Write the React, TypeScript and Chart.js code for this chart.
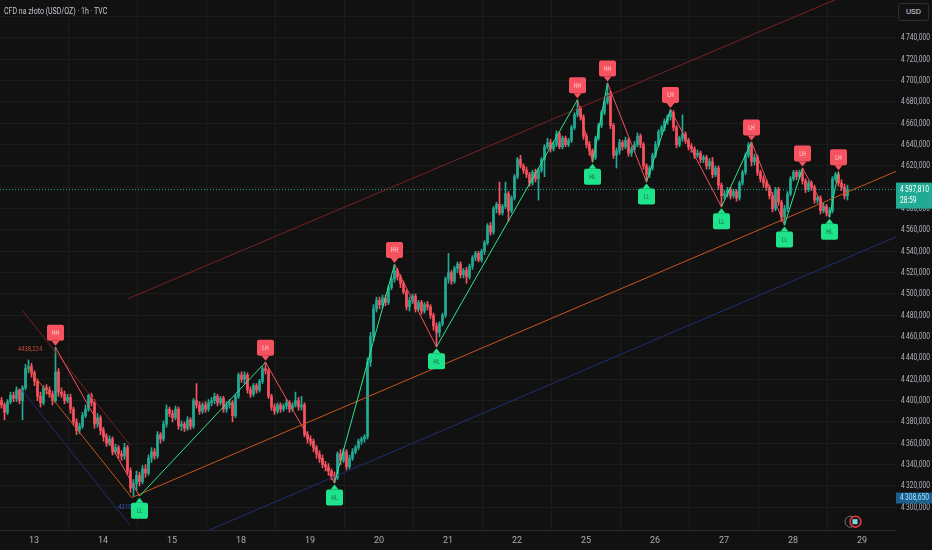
import React, { useEffect, useRef } from "react";
import { Chart, registerables } from "chart.js";
Chart.register(...registerables);

// ---------------- DATA ----------------
const FIRST_OPEN = 4400;
const closes = [
  4396,4389,4399,4405,4402, 4410,4400,4412,4430,4432, 4426,4418,4404,4398,4412, 4410,4406,4400,4427,4408,
  4406,4400,4403,4392,4380, 4372,4376,4386,4392,4405, 4398,4378,4384,4372,4366, 4360,4364,4352,4356,4350,
  4348,4356,4334,4318,4322, 4330,4324,4336,4332,4346, 4352,4348,4368,4364,4378, 4392,4388,4384,4392,4376,
  4378,4374,4382,4376,4400, 4396,4390,4396,4392,4398, 4400,4404,4398,4402,4392, 4396,4398,4386,4404,4424,
  4420,4424,4410,4406,4414, 4410,4418,4430,4428,4404, 4394,4390,4396,4392,4395, 4398,4392,4396,4400,4394,
  4396,4368,4364,4362,4356, 4350,4346,4340,4338,4334, 4330,4328,4350,4344,4352, 4338,4346,4352,4356,4362,
  4364,4366,4436,4460,4486, 4494,4490,4496,4492,4506, 4514,4522,4516,4510,4502, 4488,4494,4498,4486,4492,
  4484,4490,4488,4480,4470, 4464,4472,4480,4514,4520, 4512,4524,4528,4518,4522, 4516,4526,4534,4538,4532,
  4540,4548,4564,4558,4580, 4584,4576,4582,4594,4578, 4590,4610,4626,4620,4616, 4612,4604,4614,4608,4616,
  4626,4638,4642,4636,4640, 4650,4638,4646,4640,4644, 4656,4668,4674,4666,4648, 4640,4634,4628,4646,4658,
  4670,4680,4688,4658,4630, 4634,4642,4638,4644,4632, 4636,4640,4648,4640,4620, 4612,4618,4630,4640,4652,
  4656,4662,4666,4670,4656, 4640,4646,4650,4644,4638, 4636,4630,4632,4626,4628, 4620,4624,4612,4618,4602,
  4592,4594,4598,4592,4596, 4590,4604,4614,4630,4640, 4624,4628,4614,4608,4604, 4600,4592,4580,4598,4586,
  4572,4580,4594,4608,4614, 4610,4614,4606,4598,4604, 4600,4588,4590,4578,4582, 4576,4578,4608,4612,4604,
  4600,4592,4597.81,
];
const highs = [
  4403,4398,4401,4408,4408, 4413,4411,4414,4434,4438.2, 4435,4428,4420,4408,4414, 4415,4413,4409,4450,4430,
  4412,4409,4406,4406,4394, 4383,4379,4389,4396,4406, 4407,4401,4388,4386,4375, 4369,4367,4366,4359,4358,
  4353,4360,4358,4337,4326, 4334,4333,4339,4340,4349, 4356,4355,4371,4370,4381, 4396,4394,4391,4395,4394,
  4381,4380,4385,4384,4402, 4416,4399,4398,4399,4401, 4403,4407,4406,4404,4404, 4399,4401,4400,4406,4426,
  4427,4427,4426,4413,4416, 4416,4420,4432,4436,4430, 4406,4397,4398,4398,4397, 4401,4400,4398,4408,4403,
  4404,4398,4371,4367,4364, 4358,4353,4349,4343,4341, 4336,4333,4352,4354,4355, 4354,4349,4355,4358,4364,
  4366,4368,4440,4464,4490, 4497,4497,4499,4499,4508, 4516,4527.6,4524,4518,4512, 4504,4497,4500,4500,4494,
  4494,4492,4493,4490,4482, 4473,4474,4482,4516,4538, 4522,4526,4530,4530,4524, 4525,4528,4536,4540,4540,
  4542,4550,4566,4567,4582, 4586,4605,4584,4605,4596, 4592,4612,4628,4630,4622, 4619,4614,4616,4617,4618,
  4628,4640,4646,4645,4643, 4653,4652,4648,4648,4646, 4658,4670,4682,4676,4668, 4650,4643,4636,4648,4660,
  4672,4683,4697.8,4690,4660, 4637,4645,4644,4647,4646, 4638,4643,4651,4650,4642, 4622,4620,4632,4643,4654,
  4658,4664,4668,4673,4672, 4658,4648,4668,4652,4646, 4641,4638,4635,4634,4630, 4630,4627,4628,4620,4620,
  4604,4597,4600,4600,4598, 4598,4606,4616,4632,4642, 4642.5,4631,4630,4616,4611, 4607,4602,4595,4600,4600,
  4588,4583,4596,4610,4616, 4616,4616,4618,4608,4606, 4606,4602,4592,4592,4585, 4584,4581,4610,4614,4614.5,
  4607,4603,4602,
];
const lows = [
  4393,4382,4387,4397,4399, 4399,4397,4382,4410,4426, 4422,4414,4400,4394,4396, 4406,4403,4396,4398,4404,
  4403,4397,4398,4388,4377, 4368,4369,4374,4384,4390, 4395,4374,4375,4368,4362, 4357,4358,4349,4350,4346,
  4344,4345,4331,4314,4310.45, 4316,4320,4322,4328,4330, 4342,4345,4346,4360,4362, 4375,4385,4380,4382,4373,
  4372,4371,4372,4373,4374, 4393,4387,4388,4389,4390, 4395,4397,4395,4396,4389, 4389,4393,4380,4384,4402,
  4417,4416,4407,4403,4404, 4407,4408,4416,4425,4402, 4391,4387,4388,4389,4390, 4392,4389,4390,4394,4391,
  4391,4366,4360,4358,4352, 4346,4342,4337,4334,4330, 4326,4322.8,4326,4340,4342, 4335,4336,4344,4350,4354,
  4359,4361,4364,4432,4456, 4483,4486,4487,4489,4490, 4504,4511,4513,4506,4500, 4485,4484,4491,4483,4484,
  4481,4482,4485,4477,4466, 4450.4,4460,4470,4478,4510, 4509,4510,4520,4515,4515, 4510,4514,4523,4531,4530,
  4530,4537,4546,4555,4556, 4576,4574,4574,4580,4568, 4576,4588,4608,4618,4613, 4609,4601,4602,4605,4588,
  4614,4610,4636,4633,4634, 4638,4636,4636,4638,4638, 4642,4654,4666,4663,4645, 4637,4630,4623.6,4626,4644,
  4656,4668,4678,4655,4627, 4618,4631,4635,4636,4629, 4629,4633,4638,4637,4617, 4605,4609,4616,4628,4638,
  4649,4653,4659,4663,4653, 4637,4638,4643,4641,4635, 4633,4627,4628,4623,4623, 4617,4617,4609,4610,4598,
  4581.7,4589,4591,4589,4590, 4587,4588,4602,4612,4628, 4620,4621,4611,4605,4600, 4597,4589,4577,4578,4583,
  4568,4564.6,4577,4592,4606, 4607,4608,4603,4595,4596, 4597,4585,4585,4575,4576, 4573,4572,4576,4606,4601,
  4597,4589,4588,
];

// swing points (bar index, price, label)
const pivotIdx = [18, 46, 88, 111, 131, 145, 192, 197, 202, 215, 223, 240, 250, 261, 267, 276, 279];
const pivotPrice = [4450, 4310.45, 4436, 4322.8, 4527.6, 4450.4, 4682, 4623.6, 4697.8, 4605, 4673, 4581.7, 4642.5, 4564.6, 4618, 4572, 4614.5];
const pivotLabel = ["HH", "LL", "LH", "HL", "HH", "HL", "HH", "HL", "HH", "LL", "LH", "LL", "LH", "LL", "LH", "HL", "LH"];

// drawn trend lines: [barIndex, price] endpoints
const upChannelTop = [[42.2, 4495.6], [298.2, 4800]];
const upChannelMid = [[43.4, 4309.1], [298.2, 4615]];
const upChannelLow = [[67.8, 4276.9], [298.2, 4553.5]];
const downChannelTop = [[6.8, 4485], [42.8, 4358.5]];
const downChannelMid = [[8.5, 4431.6], [43.4, 4309.1]];
const downChannelLow = [[6.8, 4410], [42.8, 4283.4]];

// axes
const dayTickIdx = [10.83, 33.83, 56.83, 79.83, 102.83, 125.83, 148.83, 171.83, 194.83, 217.83, 240.83, 263.83, 286.83];
const dayTickLabels = ["13", "14", "15", "18", "19", "20", "21", "22", "25", "26", "27", "28", "29"];
const priceTicks = [4300, 4320, 4340, 4360, 4380, 4400, 4420, 4440, 4460, 4480, 4500, 4520, 4540, 4560, 4580, 4600, 4620, 4640, 4660, 4680, 4700, 4720, 4740, 4760];

const LAST_PRICE = 4597.81;
const LOW_MARK_PRICE = 4308.65;
const TITLE = "CFD na złoto (USD/OZ) · 1h · TVC";

// ---------------- STYLE ----------------
const BG = "#111111";
const GRID = "#1c1c1c";
const UP = "#22ab94";
const DOWN = "#f7525f";
const ZZ_GREEN = "#2ee58c";
const LBL_GREEN = "#1fe38a";
const DARK_RED = "#7d1f22";
const ORANGE = "#c8561c";
const NAVY = "#1f2f75";
const FONT = "'Roboto','DejaVu Sans',sans-serif";
const SQUEEZE = 0.74;

const fmt = (v: number) => {
  const s = v.toFixed(3).replace(".", ",");
  return s.slice(0, 1) + "\u2009" + s.slice(1);
};

const squeezedText = (ctx: any, text: string, x: number, y: number) => {
  ctx.save();
  ctx.translate(x, y);
  ctx.scale(SQUEEZE, 1);
  ctx.fillText(text, 0, 0);
  ctx.restore();
};

export default function App() {
  const ref = useRef<HTMLCanvasElement | null>(null);

  useEffect(() => {
    const canvas = ref.current;
    if (!canvas) return;
    const opens = closes.map((c, i) => (i === 0 ? FIRST_OPEN : closes[i - 1]));
    const colors = closes.map((c, i) => (c >= opens[i] ? UP : DOWN));

    const line = (pts: number[][], color: string, extra: any = {}) => ({
      type: "line" as const,
      data: pts.map((p) => ({ x: p[0], y: p[1] })),
      borderColor: color,
      borderWidth: 1,
      pointRadius: 0,
      tension: 0,
      order: 1,
      ...extra,
    });

    const overlay = {
      id: "overlay",
      afterDatasetsDraw(chart: any) {
        const { ctx, scales, chartArea } = chart;
        const x = scales.x, y = scales.y;
        ctx.save();
        ctx.beginPath();
        ctx.rect(chartArea.left, chartArea.top, chartArea.right - chartArea.left, chartArea.bottom - chartArea.top);
        ctx.clip();
        // small price notes
        ctx.font = `8px ${FONT}`;
        ctx.textAlign = "center";
        ctx.textBaseline = "middle";
        ctx.fillStyle = "#c9483a";
        squeezedText(ctx, "4438,224", x.getPixelForValue(9.5), y.getPixelForValue(4448.5));
        ctx.fillStyle = "#3a57b0";
        squeezedText(ctx, "4310,451", x.getPixelForValue(43), y.getPixelForValue(4300.5));
        // pivot labels
        pivotIdx.forEach((idx, k) => {
          const px = Math.round(x.getPixelForValue(idx)) + 0.5;
          const py = y.getPixelForValue(pivotPrice[k]);
          const isHigh = pivotLabel[k] === "HH" || pivotLabel[k] === "LH";
          const dir = isHigh ? -1 : 1;
          const tip = py + dir * 1.5;
          const boxNear = tip + dir * 5;
          const boxFar = boxNear + dir * 16;
          const top = Math.min(boxNear, boxFar);
          ctx.fillStyle = isHigh ? DOWN : LBL_GREEN;
          ctx.beginPath();
          ctx.moveTo(px, tip);
          ctx.lineTo(px - 4, boxNear);
          ctx.lineTo(px + 4, boxNear);
          ctx.closePath();
          ctx.fill();
          const w = 17, h = 16, r = 2, lx = px - w / 2;
          ctx.beginPath();
          ctx.moveTo(lx + r, top);
          ctx.lineTo(lx + w - r, top);
          ctx.quadraticCurveTo(lx + w, top, lx + w, top + r);
          ctx.lineTo(lx + w, top + h - r);
          ctx.quadraticCurveTo(lx + w, top + h, lx + w - r, top + h);
          ctx.lineTo(lx + r, top + h);
          ctx.quadraticCurveTo(lx, top + h, lx, top + h - r);
          ctx.lineTo(lx, top + r);
          ctx.quadraticCurveTo(lx, top, lx + r, top);
          ctx.fill();
          ctx.fillStyle = isHigh ? "rgba(255,205,205,0.75)" : "rgba(20,110,70,0.7)";
          ctx.font = `bold 7px ${FONT}`;
          squeezedText(ctx, pivotLabel[k], px, top + h / 2 + 0.5);
        });
        // event icon near the bottom
        const ex = x.getPixelForValue(284), ey = y.getPixelForValue(4286.5);
        ctx.lineWidth = 1;
        ctx.strokeStyle = "#777";
        ctx.beginPath();
        ctx.arc(ex - 3, ey, 5.5, 0, Math.PI * 2);
        ctx.stroke();
        ctx.fillStyle = "#1a1a1a";
        ctx.beginPath();
        ctx.arc(ex + 2, ey, 5.5, 0, Math.PI * 2);
        ctx.fill();
        ctx.strokeStyle = "#f23645";
        ctx.lineWidth = 1.5;
        ctx.stroke();
        ctx.fillStyle = "#7fd3d9";
        ctx.fillRect(ex - 1, ey - 2.5, 5, 5);
        ctx.restore();
      },
      afterDraw(chart: any) {
        const { ctx, scales, chartArea } = chart;
        const y = scales.y;
        const ax = chartArea.right;
        ctx.save();
        ctx.textAlign = "left";
        ctx.textBaseline = "middle";
        // price axis labels, placed by the y scale
        ctx.font = `9px ${FONT}`;
        ctx.fillStyle = "#b2b5be";
        y.ticks.forEach((t: any) => {
          if (t.value === 4760) return;
          squeezedText(ctx, fmt(t.value), ax + 5, y.getPixelForValue(t.value));
        });
        // last price box
        const lp = y.getPixelForValue(LAST_PRICE);
        ctx.fillStyle = UP;
        ctx.fillRect(ax, lp - 7, 36, 26);
        ctx.fillStyle = "#ffffff";
        squeezedText(ctx, fmt(LAST_PRICE), ax + 4, lp);
        squeezedText(ctx, "28:59", ax + 4, lp + 11);
        // low marker box
        const lm = y.getPixelForValue(LOW_MARK_PRICE);
        ctx.fillStyle = "#1c5f8c";
        ctx.fillRect(ax, lm - 5.5, 36, 11);
        ctx.fillStyle = "#9fe3ff";
        squeezedText(ctx, fmt(LOW_MARK_PRICE), ax + 4, lm);
        ctx.restore();
      },
    };

    const chart = new Chart(canvas, {
      type: "bar",
      data: {
        datasets: [
          line(downChannelTop, DARK_RED),
          line(downChannelMid, ORANGE),
          line(downChannelLow, NAVY),
          line(upChannelTop, DARK_RED),
          line(upChannelMid, ORANGE),
          line(upChannelLow, NAVY),
          line([[-0.5, LAST_PRICE], [298.2, LAST_PRICE]], UP, { borderDash: [1, 2], order: 2 }),
          {
            type: "line" as const,
            data: pivotIdx.map((p, k) => ({ x: p, y: pivotPrice[k] })),
            borderWidth: 1,
            pointRadius: 0,
            tension: 0,
            order: 0,
            borderColor: ZZ_GREEN,
            segment: {
              borderColor: (c: any) => (c.p1.parsed.y < c.p0.parsed.y ? DOWN : ZZ_GREEN),
            },
          },
          {
            type: "bar" as const,
            data: closes.map((c, i) => ({ x: i, y: [lows[i], highs[i]] })) as any,
            backgroundColor: colors,
            barThickness: 1,
            grouped: false,
            borderWidth: 0,
            order: 10,
          },
          {
            type: "bar" as const,
            data: closes.map((c, i) => ({ x: i, y: [opens[i], c] })) as any,
            backgroundColor: colors,
            barThickness: 2,
            minBarLength: 1,
            grouped: false,
            borderWidth: 0,
            order: 9,
          },
        ] as any,
      },
      options: {
        animation: false,
        responsive: false,
        maintainAspectRatio: false,
        layout: { padding: 0 },
        plugins: { legend: { display: false }, tooltip: { enabled: false } },
        scales: {
          x: {
            type: "linear",
            min: -0.5,
            max: 298.17,
            offset: false,
            grid: { color: GRID, drawTicks: false, lineWidth: 1 },
            border: { color: "#2a2a2a" },
            afterBuildTicks: (s: any) => {
              s.ticks = dayTickIdx.map((v) => ({ value: v }));
            },
            afterFit: (s: any) => {
              s.height = 20;
            },
            ticks: {
              color: "#a9acb4",
              font: { family: FONT, size: 9 },
              padding: 5,
              maxRotation: 0,
              autoSkip: false,
              callback: (v: any, i: number) => dayTickLabels[i] ?? "",
            },
          },
          y: {
            type: "linear",
            position: "right",
            min: 4278.7,
            max: 4775.6,
            grid: { color: GRID, drawTicks: false, lineWidth: 1 },
            border: { display: false },
            afterBuildTicks: (s: any) => {
              s.ticks = priceTicks.map((v) => ({ value: v }));
            },
            afterFit: (s: any) => {
              s.width = 36;
            },
            ticks: { display: false },
          },
        },
      } as any,
      plugins: [overlay],
    });
    return () => chart.destroy();
  }, []);

  return (
    <div style={{ position: "relative", width: 932, height: 550, background: BG, overflow: "hidden" }}>
      <style>{`body{margin:0;background:${BG};}`}</style>
      <canvas ref={ref} width={932} height={550} style={{ display: "block" }} />
      <div
        style={{
          position: "absolute",
          left: 4,
          top: 5,
          fontFamily: FONT,
          fontSize: 9.5,
          color: "#c3c6ce",
          whiteSpace: "nowrap",
          transform: `scaleX(${SQUEEZE})`,
          transformOrigin: "left top",
        }}
      >
        {TITLE}
      </div>
      <div
        style={{
          position: "absolute",
          left: 898,
          top: 3,
          width: 29,
          height: 16,
          border: "1px solid #2e2e2e",
          borderRadius: 3,
          background: BG,
          color: "#d1d4dc",
          fontFamily: FONT,
          fontSize: 8,
          lineHeight: "16px",
          textAlign: "center",
        }}
      >
        USD
      </div>
    </div>
  );
}
